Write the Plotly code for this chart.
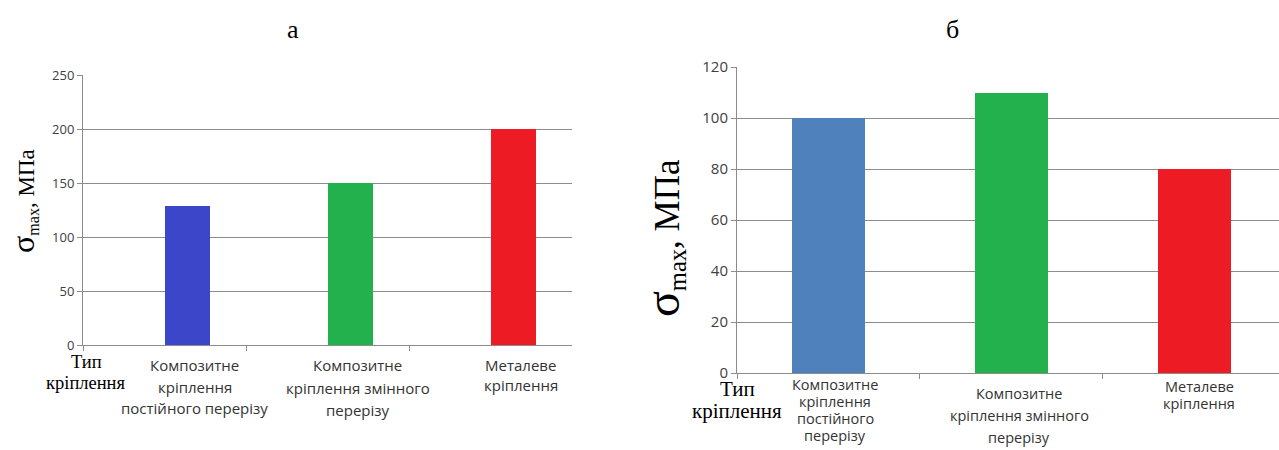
import plotly.graph_objects as go

# ---- data ----
categories = ["Композитне кріплення постійного перерізу",
              "Композитне кріплення змінного перерізу",
              "Металеве кріплення"]
values_a = [129, 150, 200]
values_b = [100, 110, 80]
colors_a = ["#3c46c8", "#22b14c", "#ed1c24"]
colors_b = ["#4f81bd", "#22b14c", "#ed1c24"]
ticks_a = [0, 50, 100, 150, 200, 250]
ticks_b = [0, 20, 40, 60, 80, 100, 120]
labels_a = [["Композитне", "кріплення", "постійного перерізу"],
            ["Композитне", "кріплення змінного", "перерізу"],
            ["Металеве", "кріплення"]]
labels_b = [["Композитне", "кріплення", "постійного", "перерізу"],
            ["Композитне", "кріплення змінного", "перерізу"],
            ["Металеве", "кріплення"]]
panel_titles = ["а", "б"]
axis_title = "<span style='font-size:{s}px'>σ</span><sub>max</sub>, МПа"
xname = ["Тип", "кріплення"]

W, H = 1279, 450
SERIF = "Liberation Serif"
SANS = "Open Sans"
GRID = "#8c8c8c"

def py(p):  # pixel from top -> paper y
    return 1 - p / H

def px(p):
    return p / W

fig = go.Figure()
fig.add_trace(go.Bar(x=categories, y=values_a, marker_color=colors_a,
                     width=0.28, offset=0, xaxis="x", yaxis="y",
                     showlegend=False, marker_line_width=0))
fig.add_trace(go.Bar(x=categories, y=values_b, marker_color=colors_b,
                     width=0.404, xaxis="x2", yaxis="y2",
                     showlegend=False, marker_line_width=0))

common_x = dict(type="category", showline=True, linecolor=GRID, linewidth=1,
                ticks="outside", tickson="boundaries", ticklen=5, tickcolor=GRID,
                showticklabels=False, showgrid=False, zeroline=False, fixedrange=True,
                automargin=False)
common_y = dict(showline=True, linecolor=GRID, linewidth=1, ticks="outside",
                ticklen=5, tickcolor=GRID, showgrid=True, gridcolor=GRID,
                gridwidth=1, zeroline=False, automargin=False, fixedrange=True)

fig.update_layout(
    width=W, height=H, margin=dict(l=0, r=0, t=0, b=0, pad=0, autoexpand=False),
    paper_bgcolor="white", plot_bgcolor="white", bargap=0,
    xaxis=dict(common_x, domain=[px(83), px(572)], range=[-0.5, 2.5], anchor="y"),
    yaxis=dict(common_y, domain=[py(345), py(75)], range=[0, 250], tickvals=ticks_a,
               tickfont=dict(family=SANS, color="#404040", size=13), anchor="x"),
    xaxis2=dict(common_x, domain=[px(737), 1.0], range=[-0.5, 2.462], anchor="y2"),
    yaxis2=dict(common_y, domain=[py(373), py(67)], range=[0, 120], tickvals=ticks_b,
                tickfont=dict(family=SANS, color="#404040", size=15), anchor="x2"),
)

def note(text, x, y, size, family, xref="paper", xshift=0, angle=0, color="black"):
    return dict(text=text, x=x, y=y, xref=xref, yref="paper", xshift=xshift,
                xanchor="center", yanchor="middle", textangle=angle,
                showarrow=False, font=dict(family=family, size=size, color=color))

ann = []
ann.append(note(panel_titles[0], px(293), py(30), 26, SERIF))
ann.append(note(panel_titles[1], px(953), py(30), 26, SERIF))
ann.append(note(axis_title.format(s=32), px(23), py(201), 23, SERIF, angle=-90))
ann.append(note(axis_title.format(s=48), px(664), py(238), 35, SERIF, angle=-90))
for i, t in enumerate(xname):
    ann.append(note(t, px(86), py(362 + 21 * i), 18.5, SERIF))
    ann.append(note(t, px(737), py(389 + 22 * i), 21, SERIF))

starts_a = [365, 365, 365]
steps_a = [21.5, 22.5, 20]
for k, lines in enumerate(labels_a):
    for j, t in enumerate(lines):
        ann.append(note(t, categories[k], py(starts_a[k] + steps_a[k] * j), 15, SANS,
                        xref="x", xshift=30, color="#333333"))

starts_b = [384, 393, 386]
steps_b = [17, 22, 17.5]
shifts_b = [7, 8, 5]
for k, lines in enumerate(labels_b):
    for j, t in enumerate(lines):
        ann.append(note(t, categories[k], py(starts_b[k] + steps_b[k] * j), 14.5, SANS,
                        xref="x2", xshift=shifts_b[k], color="#333333"))
fig.update_layout(annotations=ann)

fig.write_html("out.html")
